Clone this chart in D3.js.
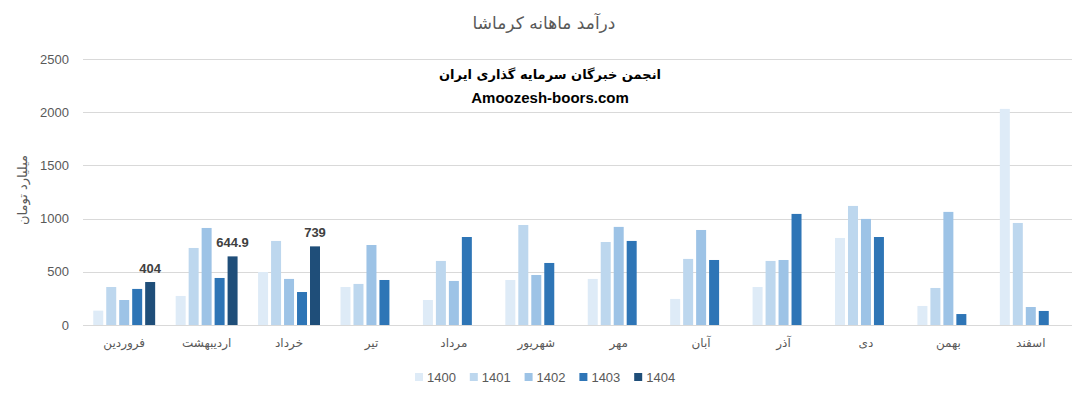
<!DOCTYPE html>
<html>
<head>
<meta charset="utf-8">
<script src="https://cdn.jsdelivr.net/npm/d3@7"></script>
<style>
  body { margin: 0; background: #fff; }
  svg { display: block; }
</style>
</head>
<body>
<svg id="chart"></svg>
<script>
// chart data
const months = ["فروردین", "اردیبهشت", "خرداد", "تیر", "مرداد", "شهریور", "مهر", "آبان", "آذر", "دی", "بهمن", "اسفند"];
const years = ["1400", "1401", "1402", "1403", "1404"];
const v1400 = [135, 273, 498, 357, 235, 423, 433, 245, 357, 818, 179, 2031];
const v1401 = [357, 724, 790, 386, 602, 940, 780, 621, 602, 1119, 348, 959];
const v1402 = [235, 912, 433, 752, 414, 470, 922, 893, 611, 997, 1063, 169];
const v1403 = [339, 442, 310, 423, 827, 583, 790, 611, 1044, 827, 103, 132];
const v1404 = [404, 644.9, 739, null, null, null, null, null, null, null, null, null];
const yTicks = [0, 500, 1000, 1500, 2000, 2500];
const colors = ["#DEEBF7", "#BDD7EE", "#9DC3E6", "#2E75B6", "#1F4E79"];

const series = [v1400, v1401, v1402, v1403, v1404];

function draw() {
    const width = 1072, height = 395;
    const svg = d3.select("#chart")
        .attr("width", width)
        .attr("height", height)
        .attr("viewBox", [0, 0, width, height]);

    const left = 83, right = 1072, top = 59, bottom = 325;

    const x0 = d3.scaleBand().domain(months).range([left, right]).padding(0);
    const x1 = d3.scaleBand().domain(years).range([0, x0.bandwidth()])
        .paddingInner(0.23).paddingOuter(0.79);
    const y = d3.scaleLinear().domain([0, 2500]).range([bottom, top]);

    // gridlines
    svg.append("g")
        .selectAll("line")
        .data(yTicks)
        .join("line")
        .attr("x1", left).attr("x2", right)
        .attr("y1", d => Math.round(y(d)) + 0.5).attr("y2", d => Math.round(y(d)) + 0.5)
        .attr("stroke", "#D9D9D9")
        .attr("stroke-width", 1);

    // y axis labels
    const yAxis = d3.axisLeft(y).tickValues(yTicks).tickFormat(d3.format("d")).tickSize(0).tickPadding(14);
    const gY = svg.append("g").attr("transform", `translate(${left},0)`).call(yAxis);
    gY.select(".domain").remove();
    gY.selectAll("text")
        .attr("fill", "#595959")
        .style("font-family", "'Liberation Sans', Arial, sans-serif")
        .style("font-size", "13px");

    // bars
    const groups = svg.append("g")
        .selectAll("g")
        .data(months)
        .join("g")
        .attr("transform", d => `translate(${x0(d)},0)`);

    groups.selectAll("rect")
        .data((m, i) => years.map((yr, k) => ({ yr, k, v: series[k][i] })).filter(d => d.v != null))
        .join("rect")
        .attr("x", d => x1(d.yr))
        .attr("width", x1.bandwidth())
        .attr("y", d => y(d.v))
        .attr("height", d => y(0) - y(d.v))
        .attr("fill", d => colors[d.k]);

    // data labels for 1404
    groups.selectAll("text.lbl")
        .data((m, i) => v1404[i] != null ? [v1404[i]] : [])
        .join("text")
        .attr("class", "lbl")
        .attr("x", x1("1404") + x1.bandwidth() / 2)
        .attr("y", d => y(d) - 9)
        .attr("text-anchor", "middle")
        .attr("fill", "#404040")
        .style("font-family", "'Liberation Sans', Arial, sans-serif")
        .style("font-size", "13px")
        .style("font-weight", "bold")
        .text(d => d);

    // x axis baseline
    svg.append("line")
        .attr("x1", left).attr("x2", right)
        .attr("y1", bottom + 0.5).attr("y2", bottom + 0.5)
        .attr("stroke", "#D9D9D9");

    // category labels
    svg.append("g")
        .selectAll("text")
        .data(months)
        .join("text")
        .attr("x", d => x0(d) + x0.bandwidth() / 2)
        .attr("y", 347)
        .attr("text-anchor", "middle")
        .attr("fill", "#595959")
        .style("font-family", "'DejaVu Sans', sans-serif")
        .style("font-size", "12px")
        .text(d => d);

    // y title
    svg.append("text")
        .attr("transform", "translate(27,190) rotate(-90)")
        .attr("text-anchor", "middle")
        .attr("fill", "#595959")
        .style("font-family", "'DejaVu Sans', sans-serif")
        .style("font-size", "13px")
        .text("میلیارد تومان");

    // title
    svg.append("text")
        .attr("x", 544).attr("y", 29)
        .attr("text-anchor", "middle")
        .attr("fill", "#595959")
        .style("font-family", "'DejaVu Sans', sans-serif")
        .style("font-size", "17px")
        .text("درآمد ماهانه کرماشا");

    // watermark text
    svg.append("text")
        .attr("x", 550).attr("y", 79)
        .attr("text-anchor", "middle")
        .attr("fill", "#000")
        .style("font-family", "'DejaVu Sans', sans-serif")
        .style("font-size", "13px")
        .style("font-weight", "bold")
        .text("انجمن خبرگان سرمایه گذاری ایران");
    svg.append("text")
        .attr("x", 550).attr("y", 103)
        .attr("text-anchor", "middle")
        .attr("fill", "#000")
        .style("font-family", "'Liberation Sans', Arial, sans-serif")
        .style("font-size", "15px")
        .style("font-weight", "bold")
        .text("Amoozesh-boors.com");

    // legend
    const legend = svg.append("g").attr("transform", "translate(415,372)");
    years.forEach((yr, i) => {
        const item = legend.append("g").attr("transform", `translate(${i * 54.8},0)`);
        item.append("rect")
            .attr("x", 0).attr("y", 1)
            .attr("width", 8).attr("height", 8)
            .attr("fill", colors[i]);
        item.append("text")
            .attr("x", 12).attr("y", 10)
            .attr("fill", "#595959")
            .style("font-family", "'Liberation Sans', Arial, sans-serif")
            .style("font-size", "13px")
            .text(yr);
    });
}

draw();
</script>
</body>
</html>
